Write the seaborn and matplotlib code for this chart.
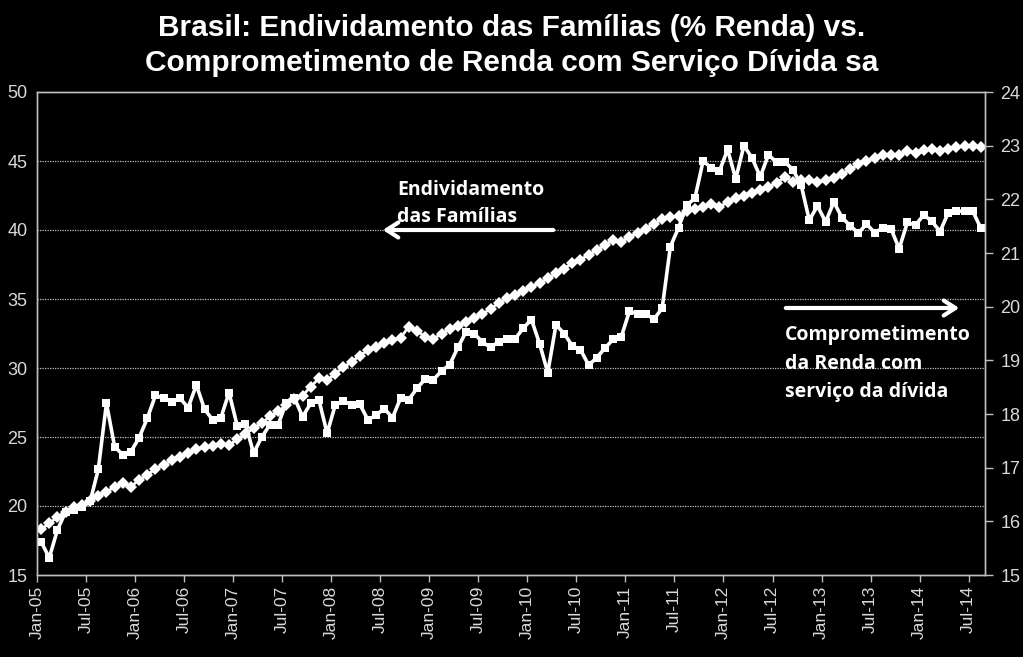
import numpy as np
import pandas as pd
import matplotlib
matplotlib.use("Agg")
import matplotlib.pyplot as plt
import seaborn as sns
from matplotlib import font_manager

# ---------------- data (monthly, Jan-05 .. Aug-14) ----------------
endividamento = [
    18.3, 18.75, 19.2, 19.6, 19.9, 20.1, 20.35, 20.7, 21.05, 21.35, 21.65, 21.4,
    21.9, 22.25, 22.7, 23.0, 23.3, 23.55, 23.85, 24.1, 24.25, 24.35, 24.5, 24.4,
    24.85, 25.2, 25.65, 26.0, 26.5, 26.85, 27.3, 27.75, 28.0, 28.65, 29.25, 29.1,
    29.6, 30.05, 30.45, 30.9, 31.3, 31.55, 31.8, 32.0, 32.2, 33.0, 32.7, 32.25,
    32.1, 32.5, 32.8, 33.05, 33.35, 33.6, 33.9, 34.3, 34.7, 35.05, 35.3, 35.55,
    35.9, 36.15, 36.5, 36.85, 37.2, 37.6, 37.85, 38.2, 38.55, 38.9, 39.3, 39.15,
    39.5, 39.8, 40.1, 40.45, 40.8, 40.95, 41.0, 41.4, 41.5, 41.7, 41.85, 41.65,
    42.05, 42.3, 42.45, 42.7, 42.9, 43.15, 43.4, 43.85, 43.5, 43.6, 43.6, 43.45,
    43.6, 43.8, 44.05, 44.4, 44.75, 45.0, 45.25, 45.45, 45.45, 45.4, 45.7, 45.6,
    45.8, 45.85, 45.7, 45.85, 46.0, 46.1, 46.1, 46.0,
]
comprometimento = [
    15.62, 15.32, 15.84, 16.18, 16.22, 16.27, 16.37, 16.97, 18.2, 17.39, 17.24, 17.3,
    17.56, 17.92, 18.35, 18.29, 18.23, 18.29, 18.12, 18.54, 18.09, 17.89, 17.93, 18.4,
    17.78, 17.82, 17.27, 17.57, 17.8, 17.8, 18.21, 18.3, 17.95, 18.2, 18.26, 17.64,
    18.17, 18.24, 18.17, 18.18, 17.89, 17.98, 18.1, 17.93, 18.3, 18.27, 18.48, 18.65,
    18.64, 18.8, 18.92, 19.24, 19.53, 19.5, 19.34, 19.24, 19.35, 19.39, 19.4, 19.6,
    19.76, 19.31, 18.77, 19.66, 19.5, 19.27, 19.2, 18.91, 19.05, 19.23, 19.39, 19.44,
    19.92, 19.86, 19.86, 19.77, 19.97, 21.12, 21.47, 21.89, 22.02, 22.71, 22.59, 22.52,
    22.93, 22.38, 23.0, 22.77, 22.42, 22.83, 22.69, 22.7, 22.55, 22.27, 21.61, 21.88,
    21.58, 21.95, 21.66, 21.51, 21.37, 21.54, 21.38, 21.47, 21.45, 21.08, 21.57, 21.52,
    21.71, 21.59, 21.4, 21.75, 21.78, 21.78, 21.78, 21.46,
]
tick_labels = [
    "Jan-05", "Jul-05", "Jan-06", "Jul-06", "Jan-07", "Jul-07", "Jan-08", "Jul-08",
    "Jan-09", "Jul-09", "Jan-10", "Jul-10", "Jan-11", "Jul-11", "Jan-12", "Jul-12",
    "Jan-13", "Jul-13", "Jan-14", "Jul-14",
]
left_ticks = [15, 20, 25, 30, 35, 40, 45, 50]
right_ticks = [15, 16, 17, 18, 19, 20, 21, 22, 23, 24]

title_lines = ["Brasil: Endividamento das Famílias (% Renda) vs.",
               "Comprometimento de Renda com Serviço Dívida sa"]
label_endiv = ["Endividamento", "das Famílias"]
label_comp = ["Comprometimento", "da Renda com", "serviço da dívida"]

# ---------------- style ----------------
sns.set_theme(style="dark")
plt.rcParams['font.family'] = ['Liberation Sans', 'DejaVu Sans']

names = {f.name for f in font_manager.fontManager.ttflist}
if 'Liberation Sans Narrow' in names:
    title_family, title_size = 'Liberation Sans Narrow', 23
else:
    title_family, title_size = 'Liberation Sans', 21.5

W, H = 1023, 657
fig = plt.figure(figsize=(W / 100, H / 100), dpi=100, facecolor='black')
L, R, T, B = 37, 985, 92, 575
ax = fig.add_axes([L / W, 1 - B / H, (R - L) / W, (B - T) / H])
ax.set_facecolor('black')

n = len(endividamento)
df = pd.DataFrame({
    'pos': np.arange(n) + 0.5,
    'endividamento': endividamento,
    'comprometimento': comprometimento,
})

axis_col = '#bfbfbf'
text_col = '#d9d9d9'

sns.lineplot(data=df, x='pos', y='endividamento', ax=ax, color='white',
             linewidth=2.0, marker='D', markersize=6, markeredgewidth=0)
ax2 = ax.twinx()
sns.lineplot(data=df, x='pos', y='comprometimento', ax=ax2, color='white',
             linewidth=2.6, marker='s', markersize=5.5, markeredgewidth=0)

ax.set_xlim(0, 116)
ax.set_ylim(15, 50)
ax2.set_ylim(15, 24)
ax.set_xticks(np.arange(len(tick_labels)) * 6)
ax.set_xticklabels(tick_labels, rotation=90)
ax.set_yticks(left_ticks)
ax2.set_yticks(right_ticks)
ax.set_xlabel('')
ax.set_ylabel('')
ax2.set_ylabel('')

ax.grid(False)
ax2.grid(False)
for v in left_ticks[1:-1]:
    ax.axhline(v, color=axis_col, linestyle=(0, (1, 1)), linewidth=0.9, zorder=0)

for a in (ax, ax2):
    for s in a.spines.values():
        s.set_color(axis_col)
        s.set_linewidth(1.0)
        s.set_visible(True)

ax.tick_params(axis='x', colors=axis_col, labelcolor=text_col, labelsize=12.5,
               length=5, width=1, direction='out', pad=3, bottom=True)
ax.tick_params(axis='y', colors=axis_col, labelcolor=text_col, labelsize=13,
               length=0, pad=7, left=True)
ax2.tick_params(axis='y', colors=axis_col, labelcolor=text_col, labelsize=13,
                length=6, width=1, direction='out', pad=5, right=True)

# ---------------- titles / annotations ----------------
fig.text(0.5, 1 - 28 / H, title_lines[0], ha='center', va='center', color='white',
         fontsize=title_size, fontweight='bold', family=title_family)
fig.text(0.5, 1 - 63 / H, title_lines[1], ha='center', va='center', color='white',
         fontsize=title_size, fontweight='bold', family=title_family)

ann_font = dict(color='white', fontsize=14, fontweight='bold',
                family=['Open Sans', 'DejaVu Sans'], ha='left', va='center')
for k, line in enumerate(label_endiv):
    fig.text(397 / W, 1 - (190 + 27 * k) / H, line, **ann_font)
for k, line in enumerate(label_comp):
    fig.text(785 / W, 1 - (335 + 28.5 * k) / H, line, **ann_font)

arrow_kw = dict(arrowstyle='->,head_length=0.7,head_width=0.45', color='white', lw=3)
ax.annotate('', xy=(380 / W, 1 - 230 / H), xytext=(556 / W, 1 - 230 / H),
            xycoords='figure fraction', textcoords='figure fraction', arrowprops=arrow_kw)
ax.annotate('', xy=(962 / W, 1 - 308 / H), xytext=(783 / W, 1 - 308 / H),
            xycoords='figure fraction', textcoords='figure fraction', arrowprops=arrow_kw)

fig.savefig('out.png', dpi=100, facecolor='black')
